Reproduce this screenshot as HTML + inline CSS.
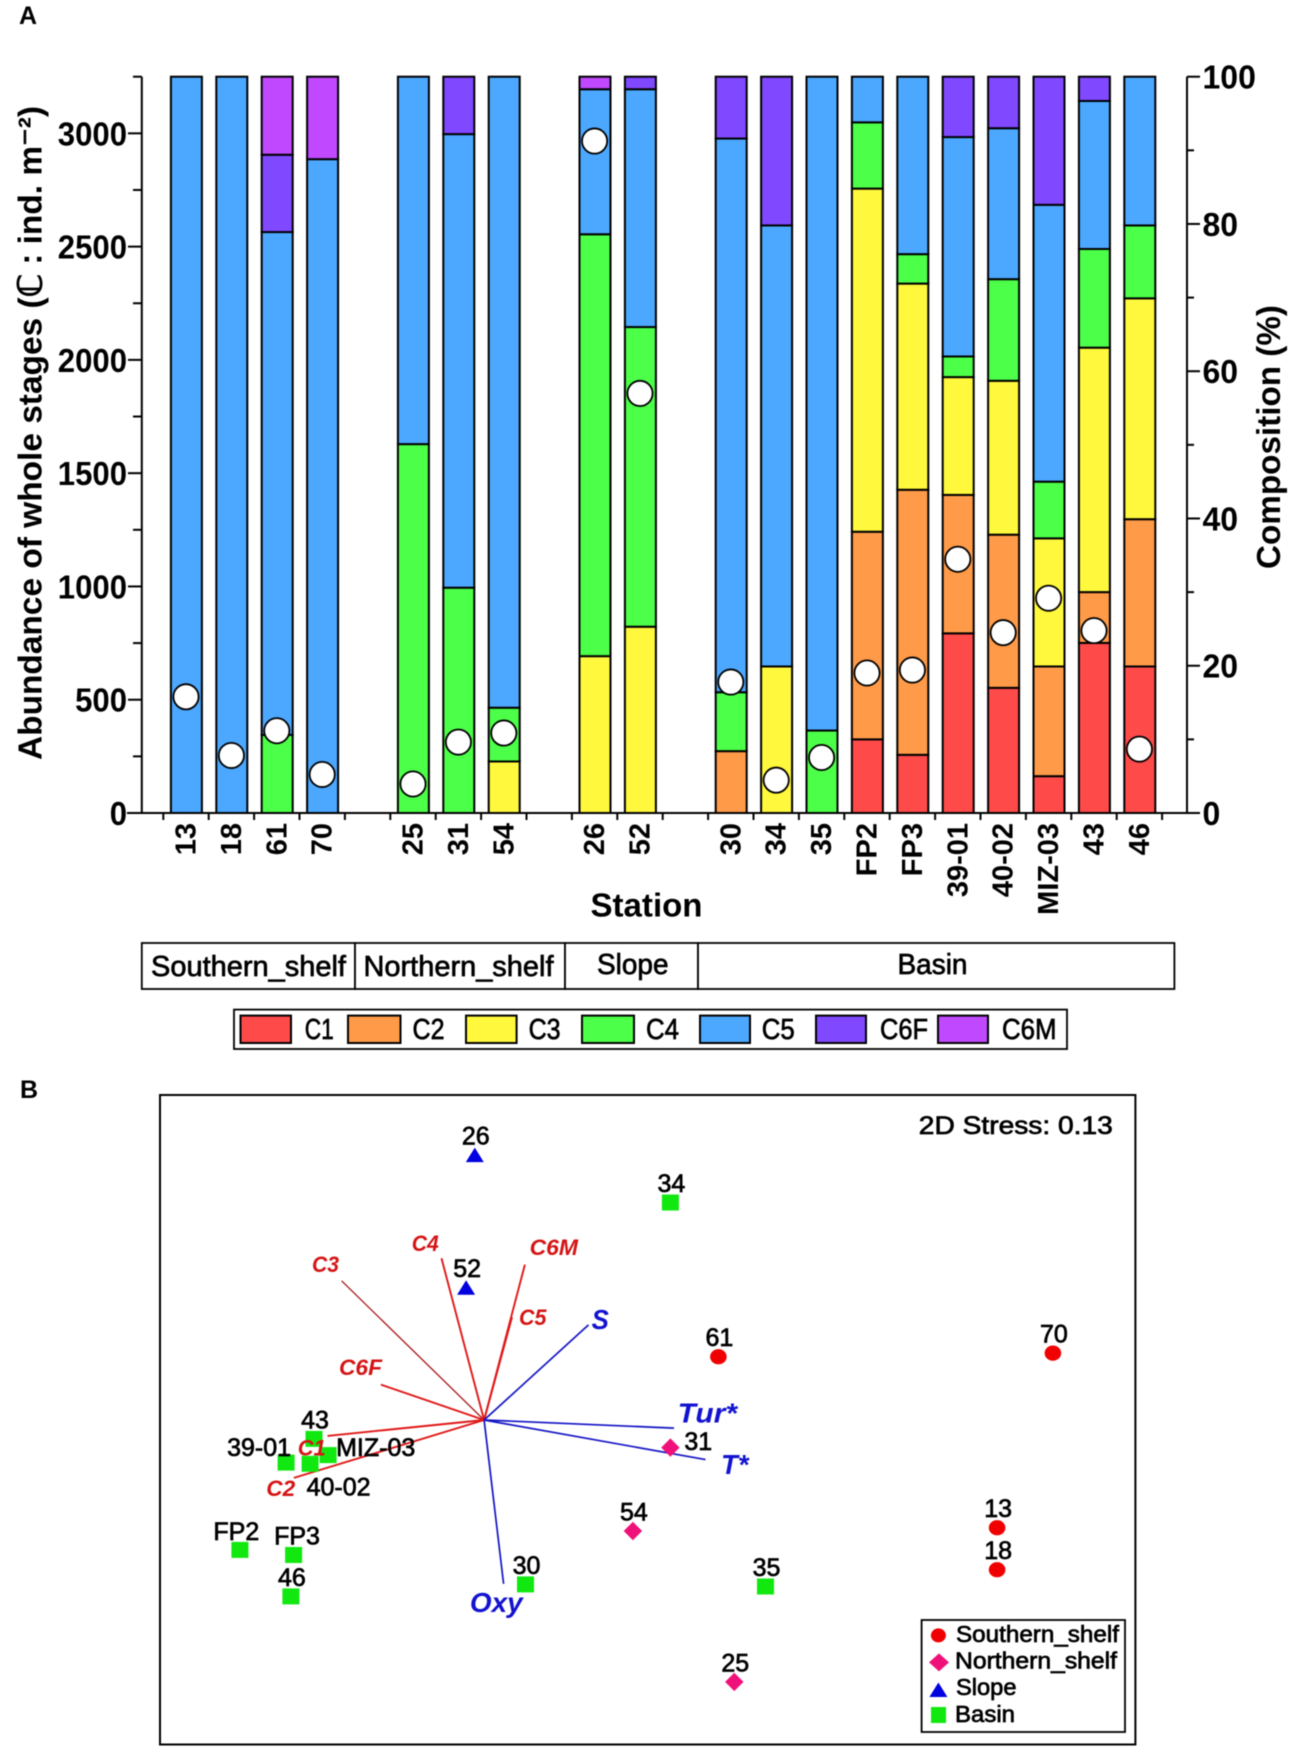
<!DOCTYPE html>
<html>
<head>
<meta charset="utf-8">
<title>Copepod stage composition and nMDS</title>
<style>
html,body{margin:0;padding:0;background:#fff;width:1294px;height:1751px;overflow:hidden}
svg{display:block;filter:blur(0.45px)}
text{font-family:"Liberation Sans",sans-serif;fill:#000}
.b{font-weight:bold}
.m{stroke:#000;stroke-width:.7px}
</style>
</head>
<body>
<svg id="fig" xmlns="http://www.w3.org/2000/svg" width="1294" height="1751" viewBox="0 0 1294 1751">
  <text class="b" x="19" y="24" font-size="25">A</text>
  <text class="b" x="20" y="1098" font-size="25">B</text>
  <g id="chartA"></g>
  <text class="b" font-size="33" transform="translate(41.5,760) rotate(-90)" textLength="654" lengthAdjust="spacingAndGlyphs">Abundance of whole stages (ℂ : ind. m⁻²)</text>
  <text class="b" font-size="33" transform="translate(1280,569) rotate(-90)" textLength="264" lengthAdjust="spacingAndGlyphs">Composition (%)</text>
  <text class="b" font-size="33" x="590.5" y="916.5" textLength="112" lengthAdjust="spacingAndGlyphs">Station</text>

  <g fill="#fff" stroke="#000" stroke-width="1.8">
    <rect x="141.8" y="943" width="213.2" height="46"/>
    <rect x="355" y="943" width="210" height="46"/>
    <rect x="565" y="943" width="133" height="46"/>
    <rect x="698" y="943" width="476.4" height="46"/>
  </g>
  <text class="m" font-size="29" x="151" y="976" textLength="195" lengthAdjust="spacingAndGlyphs">Southern_shelf</text>
  <text class="m" font-size="29" x="363.5" y="976" textLength="190" lengthAdjust="spacingAndGlyphs">Northern_shelf</text>
  <text class="m" font-size="29" x="597" y="974" textLength="71.5" lengthAdjust="spacingAndGlyphs">Slope</text>
  <text class="m" font-size="29" x="897.5" y="974" textLength="70" lengthAdjust="spacingAndGlyphs">Basin</text>

  <g>
    <rect x="234" y="1009.6" width="833" height="39.4" fill="#fff" stroke="#000" stroke-width="1.8"/>
    <g id="stageLegend"></g>
  </g>

  <rect x="160" y="1095" width="975.4" height="649.5" fill="#fff" stroke="#000" stroke-width="2"/>
  <text class="m" font-size="25" x="918.8" y="1134" textLength="194" lengthAdjust="spacingAndGlyphs">2D  Stress:  0.13</text>
  <g id="chartB"></g>

  <g>
    <rect x="921.6" y="1620" width="203.4" height="112" fill="#fff" stroke="#000" stroke-width="1.8"/>
    <ellipse cx="938.4" cy="1635.4" rx="7.5" ry="7" fill="#f00000"/>
    <polygon points="929,1662.4 939,1653.4 949,1662.4 939,1671.4" fill="#f0107a"/>
    <polygon points="929.4,1697 938.4,1682.5 947.4,1697" fill="#0000e0"/>
    <rect x="931" y="1707" width="15" height="16" fill="#10e810"/>
    <text class="m" font-size="23" x="956" y="1642" textLength="163" lengthAdjust="spacingAndGlyphs">Southern_shelf</text>
    <text class="m" font-size="23" x="955" y="1668.7" textLength="162" lengthAdjust="spacingAndGlyphs">Northern_shelf</text>
    <text class="m" font-size="23" x="956" y="1695" textLength="60.5" lengthAdjust="spacingAndGlyphs">Slope</text>
    <text class="m" font-size="23" x="955" y="1722" textLength="60" lengthAdjust="spacingAndGlyphs">Basin</text>
  </g>
</svg>

<script>
// ---- Panel A data ----
const stations = ['13','18','61','70','25','31','54','26','52','30','34','35','FP2','FP3','39-01','40-02','MIZ-03','43','46'];
const regionSizes = [4,3,2,10];
const stageNames = ['C1','C2','C3','C4','C5','C6F','C6M'];
const stageC1  = [0,0,0,0,0,0,0,0,0,0,0,0,10,7.9,24.4,17,5,23.1,19.9];
const stageC2  = [0,0,0,0,0,0,0,0,0,8.4,0,0,28.2,36,18.8,20.8,14.9,6.9,20];
const stageC3  = [0,0,0,0,0,0,7,21.3,25.3,0,19.9,0,46.6,28,16,20.9,17.4,33.2,30];
const stageC4  = [0,0,10.6,0,50.1,30.6,7.3,57.3,40.7,8,0,11.2,9,4,2.8,13.8,7.7,13.4,9.9];
const stageC5  = [100,100,68.3,88.8,49.9,61.6,85.7,19.7,32.3,75.2,59.9,88.8,6.2,24.1,29.8,20.5,37.6,20.1,20.2];
const stageC6F = [0,0,10.5,0,0,7.8,0,0,1.7,8.4,20.2,0,0,0,8.2,7,17.4,3.3,0];
const stageC6M = [0,0,10.6,11.2,0,0,0,1.7,0,0,0,0,0,0,0,0,0,0,0];
const abundance = [513,254,363,170,128,313,353,2966,1852,578,145,245,618,631,1120,796,948,805,282];
const leftMajorTicks = [0,500,1000,1500,2000,2500,3000];
const leftMinorTicks = [250,750,1250,1750,2250,2750,3250];
const rightMajorTicks = [0,20,40,60,80,100];
const rightMinorTicks = [10,30,50,70,90];

// ---- Panel B data ----
const ordStations = ['26','34','52','61','31','54','43','39-01','40-02','MIZ-03','FP2','FP3','46','30','25','35','70','13','18'];
const ordGroups = ['Slope','Basin','Slope','Southern','Northern','Northern','Basin','Basin','Basin','Basin','Basin','Basin','Basin','Basin','Northern','Basin','Southern','Southern','Southern'];
const ordX = [-0.024,0.628,-0.053,0.788,0.628,0.503,-0.56,-0.653,-0.573,-0.513,-0.807,-0.628,-0.637,0.145,0.841,0.945,1.903,1.717,1.717];
const ordY = [0.883,0.725,0.441,0.211,-0.092,-0.37,-0.063,-0.142,-0.146,-0.117,-0.433,-0.45,-0.588,-0.548,-0.873,-0.555,0.223,-0.359,-0.499];
const stageVectorNames = ['C1','C2','C3','C4','C5','C6F','C6M'];
const stageVectorX = [-0.515,-0.627,-0.468,-0.135,0.1,-0.337,0.143];
const stageVectorY = [-0.053,-0.193,0.464,0.539,0.343,0.118,0.518];
const envVectorNames = ['S','Tur*','T*','Oxy'];
const envVectorX = [0.355,0.64,0.745,0.072];
const envVectorY = [0.317,-0.027,-0.132,-0.546];

// ---- Scales and styling (not data) ----
const NS = 'http://www.w3.org/2000/svg';
const BASE = 813, TOP = 76.7, LEFT = 141.8, RIGHT = 1187;
const ABUND_MAX = 3250, PCT_MAX = 100;
const yAbund = v => BASE - v / ABUND_MAX * (BASE - TOP);
const yPct = v => BASE - v / PCT_MAX * (BASE - TOP);
const bandFirst = 186, bandStep = 45.4, barWidth = 31;
const slotIndex = [];
(function(){
  let s = 0;
  regionSizes.forEach(function(n){
    for (let k = 0; k < n; k++) { slotIndex.push(s); s++; }
    s++;
  });
})();
const xBand = i => bandFirst + slotIndex[i] * bandStep;
const xSlot = s => bandFirst + s * bandStep;
const ordXs = v => 482 + v * 300;
const ordYs = v => 1420 - v * 300;
const stageColors = {C1:'#ff4a4a',C2:'#ff9a48',C3:'#fff83c',C4:'#4cff48',C5:'#4ca8ff',C6F:'#8048ff',C6M:'#c048ff'};
const stageSeries = [stageC1,stageC2,stageC3,stageC4,stageC5,stageC6F,stageC6M];

function make(parent, tag, attrs, name, content) {
  const el = document.createElementNS(NS, tag);
  for (const k in attrs) el.setAttribute(k, attrs[k]);
  
  
  if (content !== undefined) el.textContent = content;
  parent.appendChild(el);
  return el;
}

// ---- Draw panel A ----
const A = document.getElementById('chartA');
stations.forEach(function(st, i){
  let cum = 0;
  const cx = xBand(i) + 0.4;
  stageSeries.forEach(function(series, k){
    const v = series[i];
    if (v <= 0) return;
    const y1 = yPct(cum + v), y0 = yPct(cum);
    make(A, 'rect', {x: cx - barWidth/2, y: y1, width: barWidth, height: y0 - y1, fill: stageColors[stageNames[k]], stroke: '#000', 'stroke-width': 2}, 'bar-' + st + '-' + stageNames[k]);
    cum += v;
  });
});
make(A, 'line', {x1: LEFT, x2: LEFT, y1: TOP, y2: BASE, stroke: '#000', 'stroke-width': 2}, 'left-axis-line');
make(A, 'line', {x1: RIGHT, x2: RIGHT, y1: TOP, y2: BASE, stroke: '#000', 'stroke-width': 2}, 'right-axis-line');
make(A, 'line', {x1: 127, x2: 1200, y1: BASE, y2: BASE, stroke: '#000', 'stroke-width': 2}, 'x-axis-line');
leftMajorTicks.forEach(function(t){
  const label = String(t);
  make(A, 'line', {x1: 128, x2: LEFT, y1: yAbund(t), y2: yAbund(t), stroke: '#000', 'stroke-width': 2}, 'left-major-tick');
  make(A, 'text', {x: 127, y: yAbund(t) + 12, 'text-anchor': 'end', 'font-size': 33, 'font-weight': 'bold', textLength: label.length * 17.3, lengthAdjust: 'spacingAndGlyphs'}, 'left-tick-label', label);
});
leftMinorTicks.forEach(function(t){
  make(A, 'line', {x1: 133, x2: LEFT, y1: yAbund(t), y2: yAbund(t), stroke: '#000', 'stroke-width': 2}, 'left-minor-tick');
});
rightMajorTicks.forEach(function(t){
  const label = String(t);
  make(A, 'line', {x1: RIGHT, x2: 1200, y1: yPct(t), y2: yPct(t), stroke: '#000', 'stroke-width': 2}, 'right-major-tick');
  make(A, 'text', {x: 1202.5, y: yPct(t) + 12, 'font-size': 33, 'font-weight': 'bold', textLength: label.length * 17.8, lengthAdjust: 'spacingAndGlyphs'}, 'right-tick-label', label);
});
rightMinorTicks.forEach(function(t){
  make(A, 'line', {x1: RIGHT, x2: 1194, y1: yPct(t), y2: yPct(t), stroke: '#000', 'stroke-width': 2}, 'right-minor-tick');
});
for (let s = 0; s <= 22; s++) {
  const tx = xSlot(s - 0.5);
  make(A, 'line', {x1: tx, x2: tx, y1: BASE, y2: BASE + 7, stroke: '#000', 'stroke-width': 2}, 'x-tick');
}
stations.forEach(function(st, i){
  make(A, 'text', {transform: 'translate(' + (xBand(i) + 9.5) + ',823) rotate(-90)', 'text-anchor': 'end', 'font-size': 29, 'font-weight': 'bold'}, 'x-tick-label-' + st, st);
});
stations.forEach(function(st, i){
  make(A, 'circle', {cx: xBand(i), cy: yAbund(abundance[i]), r: 12.6, fill: '#fff', stroke: '#000', 'stroke-width': 1.8}, 'abundance-marker-' + st);
});

// ---- Stage legend ----
const legendBoxes = {C1:[240.5,291],C2:[348,400.5],C3:[466,516.6],C4:[582,634],C5:[700,750],C6F:[816,866],C6M:[938,988]};
const legendText = {C1:[304.7,29],C2:[412.5,32],C3:[528.6,32],C4:[646,33],C5:[761.7,33],C6F:[880,48],C6M:[1002,54.6]};
const L = document.getElementById('stageLegend');
stageNames.forEach(function(nm){
  const b = legendBoxes[nm], t = legendText[nm];
  make(L, 'rect', {x: b[0], y: 1015.6, width: b[1] - b[0], height: 27.4, fill: stageColors[nm], stroke: '#000', 'stroke-width': 2}, 'legend-swatch-' + nm);
  make(L, 'text', {x: t[0], y: 1039, 'font-size': 29, 'class': 'm', textLength: t[1], lengthAdjust: 'spacingAndGlyphs'}, 'legend-label-' + nm, nm);
});

// ---- Draw panel B ----
const B = document.getElementById('chartB');
const vecLabelAt = {
  C1:[297.7,1455.3,28], C2:[266.3,1496,29], C3:[312,1271.8,27], C4:[411.7,1250.8,27],
  C5:[519,1324.9,27.4], C6F:[339,1375,43], C6M:[529.6,1255,48.4]
};
const envLabelAt = {S:[591.6,1329,17.2], 'Tur*':[677.7,1422.5,59.3], 'T*':[721,1473.8,27.5], Oxy:[469.9,1611.9,52.8]};
const vectorOriginX = 0.007;
stageVectorNames.forEach(function(nm, i){
  make(B, 'line', {x1: ordXs(vectorOriginX), y1: ordYs(0), x2: ordXs(stageVectorX[i]), y2: ordYs(stageVectorY[i]), stroke: nm === 'C3' ? '#a81818' : '#e01818', 'stroke-width': nm === 'C3' ? 1.3 : 1.9}, 'stage-vector-' + nm);
});
envVectorNames.forEach(function(nm, i){
  make(B, 'line', {x1: ordXs(vectorOriginX), y1: ordYs(0), x2: ordXs(envVectorX[i]), y2: ordYs(envVectorY[i]), stroke: '#1414c4', 'stroke-width': 1.7}, 'environment-vector-' + nm);
});
const labelPlace = {
  '31':[14,2.5,'start'], '39-01':[-59,-6.5,'start'], '40-02':[-3.5,31.5,'start'], 'MIZ-03':[8,1,'start'],
  'FP2':[-26.5,-10,'start'], 'FP3':[-19.5,-10.5,'start']
};
function marker(g, cx, cy, group, st) {
  if (group === 'Basin') {
    make(g, 'rect', {x: cx - 8.5, y: cy - 8, width: 17, height: 16, fill: '#10e810'}, 'point-' + st);
  } else if (group === 'Southern') {
    make(g, 'ellipse', {cx: cx, cy: cy, rx: 8.3, ry: 7.6, fill: '#f00000'}, 'point-' + st);
  } else if (group === 'Northern') {
    const pts = (cx-9.2)+','+cy+' '+cx+','+(cy-9.2)+' '+(cx+9.2)+','+cy+' '+cx+','+(cy+9.2);
    make(g, 'polygon', {points: pts, fill: '#f0107a'}, 'point-' + st);
  } else {
    const pts = (cx-9)+','+(cy+7)+' '+cx+','+(cy-7.5)+' '+(cx+9)+','+(cy+7);
    make(g, 'polygon', {points: pts, fill: '#0000e0'}, 'point-' + st);
  }
}
ordStations.forEach(function(st, i){
  const cx = ordXs(ordX[i]), cy = ordYs(ordY[i]);
  marker(B, cx, cy, ordGroups[i], st);
});
ordStations.forEach(function(st, i){
  const cx = ordXs(ordX[i]), cy = ordYs(ordY[i]);
  const p = labelPlace[st];
  if (p) {
    make(B, 'text', {x: cx + p[0], y: cy + p[1], 'font-size': 25, 'class': 'm', 'text-anchor': p[2]}, 'point-label-' + st, st);
  } else {
    make(B, 'text', {x: cx + 1, y: cy - 10.5, 'font-size': 25, 'class': 'm', 'text-anchor': 'middle'}, 'point-label-' + st, st);
  }
});
stageVectorNames.forEach(function(nm){
  const p = vecLabelAt[nm];
  const t = make(B, 'text', {x: p[0], y: p[1], 'font-size': 22, 'font-weight': 'bold', 'font-style': 'italic', textLength: p[2], lengthAdjust: 'spacingAndGlyphs'}, 'stage-vector-label-' + nm, nm);
  t.style.fill = '#d41414';
});
envVectorNames.forEach(function(nm){
  const p = envLabelAt[nm];
  const t = make(B, 'text', {x: p[0], y: p[1], 'font-size': 28, 'font-weight': 'bold', 'font-style': 'italic', textLength: p[2], lengthAdjust: 'spacingAndGlyphs'}, 'environment-vector-label-' + nm, nm);
  t.style.fill = '#1212d0';
});
</script>
</body>
</html>
